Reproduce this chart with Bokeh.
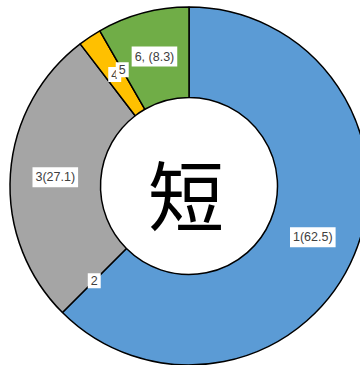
import math
from bokeh.plotting import figure
from bokeh.models import Range1d, ColumnDataSource
from bokeh.core.properties import value
from bokeh.embed import file_html
from bokeh.resources import INLINE

categories = ["1", "2", "3", "4", "5", "6"]
values = [62.5, 0.0, 27.1, 2.1, 0.0, 8.3]
label_texts = ["1(62.5)", "2", "3(27.1)", "4", "5", "6, (8.3)"]
colors = ["#5B9BD5", "#ED7D31", "#A5A5A5", "#FFC000", "#4472C4", "#70AD47"]
center_text = "短"

W, H = 360, 365
cx, cy = 188.5, 179.5
r_out, r_in = 179, 88.5
r_lab = 134

total = sum(values)
starts, ends, mids = [], [], []
acc = 0.0
for v in values:
    a0 = math.pi / 2 - acc / total * 2 * math.pi
    acc += v
    a1 = math.pi / 2 - acc / total * 2 * math.pi
    starts.append(a0)
    ends.append(a1)
    mids.append((a0 + a1) / 2)

p = figure(width=W, height=H, output_backend="svg", toolbar_location=None,
           x_range=Range1d(0, W), y_range=Range1d(0, H), min_border=0)
p.axis.visible = False
p.grid.visible = False
p.outline_line_color = None
p.background_fill_color = "white"
p.border_fill_color = "white"

idx = [i for i, v in enumerate(values) if v > 0]
wsrc = ColumnDataSource(dict(
    x=[cx] * len(idx), y=[cy] * len(idx),
    s=[starts[i] for i in idx], e=[ends[i] for i in idx],
    c=[colors[i] for i in idx]))
p.annular_wedge(x="x", y="y", inner_radius=r_in, outer_radius=r_out,
                inner_radius_units="screen", outer_radius_units="screen",
                start_angle="s", end_angle="e", direction="clock",
                fill_color="c", line_color="black", line_width=1.5, source=wsrc)

lsrc = ColumnDataSource(dict(
    x=[cx + r_lab * math.cos(m) for m in mids],
    y=[cy + r_lab * math.sin(m) for m in mids],
    t=label_texts))
p.text(x="x", y="y", text="t", source=lsrc, text_align="center",
       text_baseline="middle", text_font=value("Liberation Sans"),
       text_font_size="12.5px", text_color="#404040",
       background_fill_color="white", padding=3)

p.text(x=[cx - 3], y=[cy - 6], text=[center_text], text_align="center",
       text_baseline="middle", text_font=value("Noto Sans CJK JP"),
       text_font_size="76px", text_color="black")

open("out.html", "w").write(file_html(p, INLINE))
